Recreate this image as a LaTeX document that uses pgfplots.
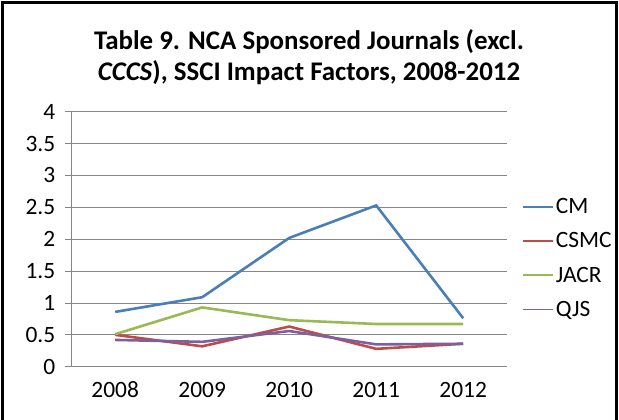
\documentclass[border=0pt]{standalone}
\usepackage{fontspec}
\setmainfont{Carlito}
\usepackage{pgfplots}
\pgfplotsset{compat=1.18}
\definecolor{cmblue}{HTML}{4A7EBB}
\definecolor{csmcred}{HTML}{BE4B48}
\definecolor{jacrgreen}{HTML}{98B954}
\definecolor{qjspurple}{HTML}{7D60A0}
\definecolor{axgray}{HTML}{868686}

\begin{document}
\begin{tikzpicture}[x=1bp,y=1bp]
  \useasboundingbox (0,0) rectangle (619,419);
  % chart frame (bottom edge is cut off in the original)
  \draw[line width=2.2bp] (2.5,-5) -- (2.5,416.5) -- (616.5,416.5) -- (616.5,-5);
  \node[font=\bfseries\fontsize{27}{31}\selectfont, align=center] at (309,362)
    {Table 9. NCA Sponsored Journals (excl.\\\textit{CCCS}), SSCI Impact Factors, 2008-2012};
  \begin{axis}[
      at={(71.7bp,52.3bp)}, anchor=south west,
      scale only axis, width=435bp, height=255bp,
      xmin=0.5, xmax=5.5, ymin=0, ymax=4,
      axis lines*=left,
      axis line style={-, axgray, line width=0.8bp},
      xtick={1,2,3,4,5},
      xticklabels={2008,2009,2010,2011,2012},
      major x tick style={draw=none},
      extra x ticks={0.5,1.5,2.5,3.5,4.5,5.5},
      extra x tick labels={},
      extra x tick style={major tick length=8bp, tick align=outside,
        tick style={axgray, line width=0.8bp}},
      ytick={0,0.5,...,4},
      tick align=outside, major tick length=7bp,
      y tick style={axgray, line width=0.8bp},
      ymajorgrids, grid style={axgray, line width=0.8bp},
      tick label style={font=\fontsize{23.5}{26}\selectfont},
      /pgf/number format/assume math mode=true,
      yticklabel style={xshift=-6bp},
      xticklabel style={yshift=-4bp, text height=16bp, text depth=0pt},
      clip=false,
      legend style={at={(rel axis cs:1.035,0.668)}, anchor=north west,
        draw=none, fill=none, inner sep=0pt, row sep=13.5bp,
        font=\fontsize{23.5}{26}\selectfont},
      legend cell align=left,
      legend image code/.code={\draw[#1, line width=1.8bp] (0bp,0bp) -- (30bp,0bp);},
      every axis plot/.append style={line width=2.6bp, mark=none},
    ]
    \addplot[cmblue] coordinates {(1,0.86)(2,1.09)(3,2.02)(4,2.53)(5,0.76)};
    \addlegendentry{CM}
    \addplot[csmcred] coordinates {(1,0.50)(2,0.32)(3,0.63)(4,0.28)(5,0.36)};
    \addlegendentry{CSMC}
    \addplot[jacrgreen] coordinates {(1,0.51)(2,0.93)(3,0.73)(4,0.67)(5,0.67)};
    \addlegendentry{JACR}
    \addplot[qjspurple] coordinates {(1,0.42)(2,0.39)(3,0.56)(4,0.35)(5,0.36)};
    \addlegendentry{QJS}
  \end{axis}
\end{tikzpicture}
\end{document}
